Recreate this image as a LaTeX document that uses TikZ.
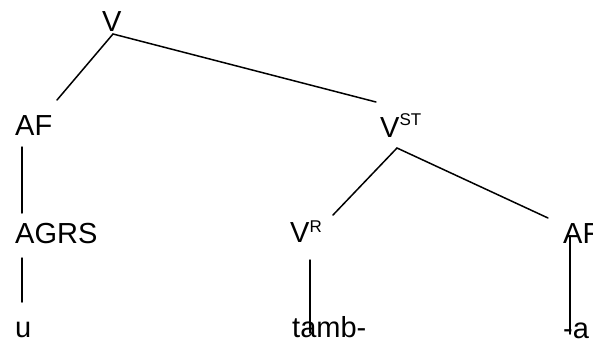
\documentclass[tikz,border=0pt]{standalone}
\usepackage{fontspec}
\setmainfont{Liberation Sans}
\begin{document}
\begin{tikzpicture}[x=1pt,y=-1pt,
  lbl/.style={inner sep=0pt, anchor=base west, font=\fontsize{29}{29}\selectfont},
  edge/.style={line width=1.5pt, black, line cap=round}]
\useasboundingbox (0,0) rectangle (593,345);
\clip (0,0) rectangle (593,345);
% labels
\node[lbl] (v) at (102,31) {V};
\node[lbl] (afl) at (15,135) {AF};
\node[lbl] (vst) at (380,137) {V\raisebox{12pt}{\fontsize{17}{17}\selectfont ST}};
\node[lbl] (agrs) at (15,243) {AGRS};
\node[lbl] (vr) at (290,242) {V\raisebox{10pt}{\fontsize{17}{17}\selectfont R}};
\node[lbl] (afr) at (563,243) {AF};
\node[lbl] (u) at (15,337) {u};
\node[lbl] (tamb) at (292,337) {tamb-};
\node[lbl] (a) at (563,338) {-a};
% connector ends
\coordinate (vj) at (113,34);
\coordinate (afltop) at (57,100);
\coordinate (vsttop) at (376,102);
\coordinate (aflbot) at (22,147);
\coordinate (agrstop) at (22,213);
\coordinate (agrsbot) at (22,258);
\coordinate (utop) at (22,302);
\coordinate (vstj) at (397,148);
\coordinate (vrtop) at (333,215);
\coordinate (afrtop) at (548,218);
\coordinate (vrbot) at (310,260);
\coordinate (tambtop) at (310,333);
\coordinate (afrbot) at (570,236);
\coordinate (atop) at (570,334);
% connectors
\draw[edge] (afltop) -- (vj) -- (vsttop);
\draw[edge] (aflbot) -- (agrstop);
\draw[edge] (agrsbot) -- (utop);
\draw[edge] (vrtop) -- (vstj) -- (afrtop);
\draw[edge] (vrbot) -- (tambtop);
\draw[edge] (afrbot) -- (atop);
\end{tikzpicture}
\end{document}
